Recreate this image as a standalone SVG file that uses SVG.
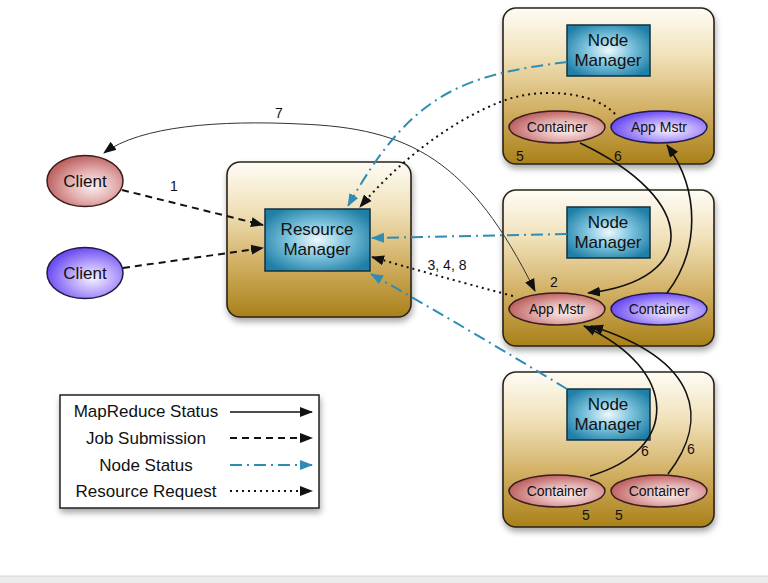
<svg xmlns="http://www.w3.org/2000/svg" width="768" height="583" viewBox="0 0 768 583">
<defs>
<linearGradient id="host" x1="0" y1="0" x2="0" y2="1">
<stop offset="0" stop-color="#fefcf6"/>
<stop offset="0.3" stop-color="#f1e2bb"/>
<stop offset="0.65" stop-color="#d2b064"/>
<stop offset="1" stop-color="#a98019"/>
</linearGradient>
<radialGradient id="nm" cx="0.5" cy="0.5" r="0.6">
<stop offset="0" stop-color="#eef9fc"/>
<stop offset="0.45" stop-color="#7fc4de"/>
<stop offset="1" stop-color="#1f7fa6"/>
</radialGradient>
<radialGradient id="red" cx="0.6" cy="0.6" r="0.6">
<stop offset="0" stop-color="#fbf0f0"/>
<stop offset="0.5" stop-color="#e4b0b0"/>
<stop offset="1" stop-color="#bf6464"/>
</radialGradient>
<radialGradient id="pur" cx="0.6" cy="0.6" r="0.6">
<stop offset="0" stop-color="#f6f2ff"/>
<stop offset="0.5" stop-color="#b7a2fb"/>
<stop offset="1" stop-color="#6c4ef2"/>
</radialGradient>
<filter id="sh" x="-10%" y="-10%" width="130%" height="130%">
<feDropShadow dx="1" dy="4" stdDeviation="3" flood-color="#000" flood-opacity="0.35"/>
</filter>
<marker id="ab" markerUnits="userSpaceOnUse" markerWidth="14" markerHeight="12" refX="12" refY="5" orient="auto-start-reverse" viewBox="0 0 14 10">
<path d="M0,0 L13,5 L0,10 z" fill="#111"/>
</marker>
<marker id="at" markerUnits="userSpaceOnUse" markerWidth="14" markerHeight="12" refX="12" refY="5" orient="auto" viewBox="0 0 14 10">
<path d="M0,0 L13,5 L0,10 z" fill="#2f8db3"/>
</marker>
<style>
.host{fill:url(#host);stroke:#2a2418;stroke-width:1.6;filter:url(#sh)}
.nm{fill:url(#nm);stroke:#15303d;stroke-width:1.5}
.er{fill:url(#red);stroke:#3b1d1d;stroke-width:1.5}
.ep{fill:url(#pur);stroke:#221a4a;stroke-width:1.5}
text{font-family:"Liberation Sans",Arial,sans-serif;fill:#111}
.big{font-size:17px;text-anchor:middle}
.sm{font-size:14px;text-anchor:middle}
.num{font-size:14px;text-anchor:middle}
.ms{fill:none;stroke:#111;stroke-width:1.6}
.ms7{fill:none;stroke:#333;stroke-width:1}
.js{fill:none;stroke:#111;stroke-width:2;stroke-dasharray:7,5}
.ns{fill:none;stroke:#2f8db3;stroke-width:2;stroke-dasharray:12,5,2,5}
.rr{fill:none;stroke:#111;stroke-width:2;stroke-dasharray:2,4}
</style>
</defs>
<rect x="0" y="0" width="768" height="583" fill="#ffffff"/>
<rect x="0" y="576" width="768" height="7" fill="#ececec"/>
<line x1="0" y1="576" x2="768" y2="576" stroke="#d6d6d6" stroke-width="1"/>

<g id="host1">
<rect class="host" x="503" y="8" width="211" height="156" rx="13"/>
</g>
<g id="host2">
<rect class="host" x="503" y="190" width="211" height="156" rx="13"/>
</g>
<g id="host3">
<rect class="host" x="503" y="372" width="211" height="155" rx="13"/>
</g>
<g id="rm-host">
<rect class="host" x="227" y="162" width="184" height="155" rx="13"/>
</g>

<g id="rm">
<rect class="nm" x="265" y="209" width="105" height="62"/>
<text class="big" x="317" y="235">Resource</text>
<text class="big" x="317" y="255">Manager</text>
</g>
<g id="nm1">
<rect class="nm" x="567" y="25" width="83" height="51"/>
<text class="big" x="608" y="46">Node</text>
<text class="big" x="608" y="66">Manager</text>
</g>
<g id="nm2">
<rect class="nm" x="567" y="207" width="83" height="51"/>
<text class="big" x="608" y="228">Node</text>
<text class="big" x="608" y="248">Manager</text>
</g>
<g id="nm3">
<rect class="nm" x="567" y="389" width="83" height="51"/>
<text class="big" x="608" y="410">Node</text>
<text class="big" x="608" y="430">Manager</text>
</g>

<g id="client1">
<ellipse class="er" cx="85" cy="181" rx="38" ry="25.5"/>
<text class="big" x="85" y="187">Client</text>
</g>
<g id="client2">
<ellipse class="ep" cx="85" cy="273" rx="38" ry="25.5"/>
<text class="big" x="85" y="279">Client</text>
</g>

<g id="h1-container">
<ellipse class="er" cx="557" cy="127" rx="48" ry="16"/>
<text class="sm" x="557" y="132">Container</text>
</g>
<g id="h1-appmstr">
<ellipse class="ep" cx="659" cy="127" rx="48" ry="16"/>
<text class="sm" x="659" y="132">App Mstr</text>
</g>
<g id="h2-appmstr">
<ellipse class="er" cx="557" cy="309" rx="48" ry="16"/>
<text class="sm" x="557" y="314">App Mstr</text>
</g>
<g id="h2-container">
<ellipse class="ep" cx="659" cy="309" rx="48" ry="16"/>
<text class="sm" x="659" y="314">Container</text>
</g>
<g id="h3-container1">
<ellipse class="er" cx="557" cy="491" rx="48" ry="16"/>
<text class="sm" x="557" y="496">Container</text>
</g>
<g id="h3-container2">
<ellipse class="er" cx="659" cy="491" rx="48" ry="16"/>
<text class="sm" x="659" y="496">Container</text>
</g>

<g id="connectors">
<path class="js" d="M122,190 L263,225" marker-end="url(#ab)"/>
<path class="js" d="M123,268 L263,248" marker-end="url(#ab)"/>
<path class="ms7" d="M104,153 C140,126 220,120 300,124 C410,128 470,160 535,291" marker-start="url(#ab)" marker-end="url(#ab)"/>
<path class="ns" d="M567,62 C460,75 410,95 348,206" marker-end="url(#at)"/>
<path class="rr" d="M615,114 C595,92 540,86 500,102 C450,122 400,160 360,207" marker-end="url(#ab)"/>
<path class="ns" d="M567,234 L372,238" marker-end="url(#at)"/>
<path class="rr" d="M513,296 Q430,274 372,257" marker-end="url(#ab)"/>
<path class="ns" d="M567,389 Q470,330 371,274" marker-end="url(#at)"/>
<path class="ms" d="M580,143 C700,200 700,280 588,293" marker-end="url(#ab)"/>
<path class="ms" d="M667,293 C700,250 700,190 667,145" marker-end="url(#ab)"/>
<path class="ms" d="M590,476 C680,450 680,370 584,326" marker-end="url(#ab)"/>
<path class="ms" d="M668,474 C710,420 700,360 591,326" marker-end="url(#ab)"/>
<text class="num" x="279" y="118">7</text>
<text class="num" x="174" y="191">1</text>
<text class="num" x="554" y="287">2</text>
<text class="num" x="447" y="270">3, 4, 8</text>
<text class="num" x="520" y="161">5</text>
<text class="num" x="618" y="161">6</text>
<text class="num" x="645" y="456">6</text>
<text class="num" x="691" y="454">6</text>
<text class="num" x="586" y="520">5</text>
<text class="num" x="619" y="520">5</text>
</g>

<g id="legend">
<rect x="60" y="395" width="259" height="113" fill="#fff" stroke="#222" stroke-width="1.5" filter="url(#sh)"/>
<text class="big" x="146" y="417">MapReduce Status</text>
<text class="big" x="146" y="444">Job Submission</text>
<text class="big" x="146" y="471">Node Status</text>
<text class="big" x="146" y="497">Resource Request</text>
<path class="ms" d="M230,412 L312,412" marker-end="url(#ab)"/>
<path class="js" d="M230,438 L312,438" marker-end="url(#ab)"/>
<path class="ns" d="M230,465 L312,465" marker-end="url(#at)"/>
<path class="rr" d="M230,491 L312,491" marker-end="url(#ab)"/>
</g>
</svg>
